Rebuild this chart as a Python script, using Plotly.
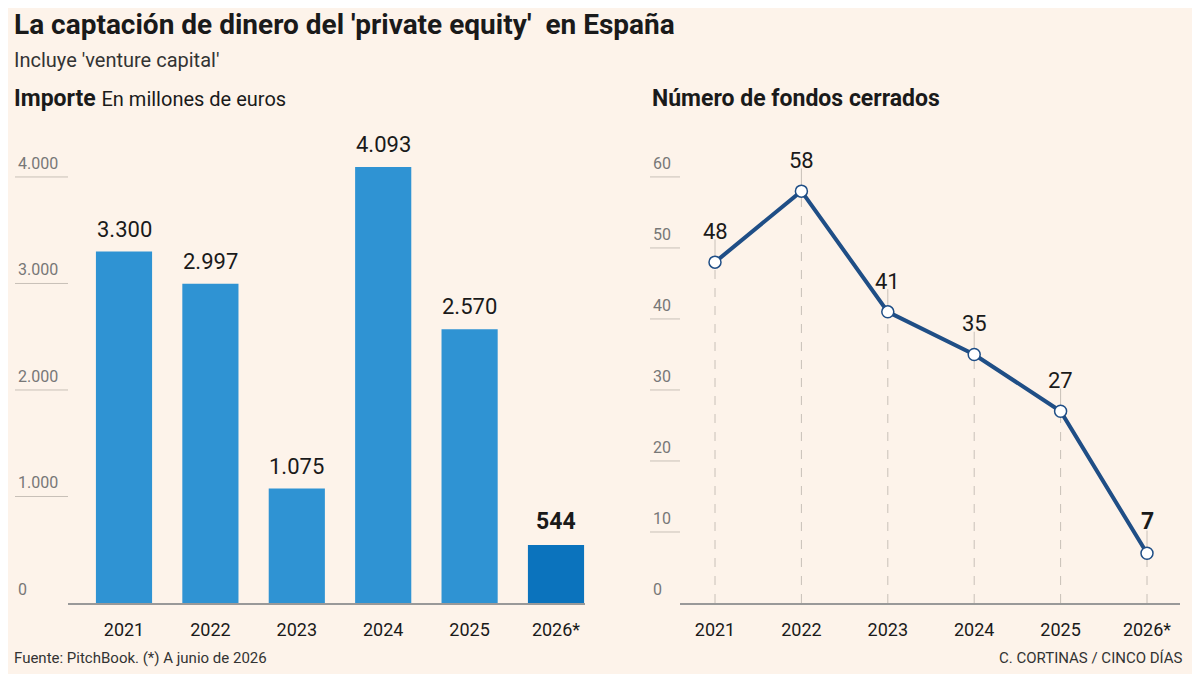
import plotly.graph_objects as go

years = ["2021", "2022", "2023", "2024", "2025", "2026*"]
importe = [3300, 2997, 1075, 4093, 2570, 544]
fondos = [48, 58, 41, 35, 27, 7]
left_ticks = [0, 1000, 2000, 3000, 4000]
right_ticks = [0, 10, 20, 30, 40, 50, 60]

BG = "#fdf3ea"
FONT = "Roboto"
TXT = "#1a1a1a"
OFF = 8  # page offset compensation
W, H = 1200, 674
xs = list(range(len(years)))

def px(x):
    return (x - OFF) / W

def py(y):
    return 1 - (y - OFF) / H

def fmt(v):
    return f"{v:,}".replace(",", ".")

fig = go.Figure()
fig.add_trace(go.Bar(x=xs, y=importe, width=0.65,
                     marker=dict(color=["#2f93d3"] * 5 + ["#0b73bd"], line_width=0),
                     xaxis="x", yaxis="y", hoverinfo="skip"))
fig.add_trace(go.Scatter(x=xs, y=fondos, mode="lines+markers",
                         line=dict(color="#1f4e86", width=4),
                         marker=dict(size=12, color="white", line=dict(color="#1f4e86", width=1.5)),
                         xaxis="x2", yaxis="y2", hoverinfo="skip"))

ann = []
shapes = []
for i, v in enumerate(importe):
    last = i == len(importe) - 1
    ann.append(dict(x=i, y=v, xref="x", yref="y", text=f"<b>{fmt(v)}</b>" if last else fmt(v),
                    showarrow=False, yanchor="bottom", yshift=8,
                    font=dict(size=23 if last else 22, color=TXT, family=FONT)))
for i, v in enumerate(fondos):
    last = i == len(fondos) - 1
    ann.append(dict(x=i, y=v, xref="x2", yref="y2", text=f"<b>{v}</b>" if last else str(v),
                    showarrow=False, yanchor="bottom", yshift=16,
                    font=dict(size=23 if last else 22, color=TXT, family=FONT)))
    shapes.append(dict(type="line", xref="x2", yref="y2", x0=i, x1=i, y0=0, y1=v,
                       line=dict(color="#c8c0b8", width=1, dash="dash"), layer="below"))
    shapes.append(dict(type="line", xref="x2", yref="y2", x0=i, x1=i, y0=v, y1=v + 3.2,
                       line=dict(color="#c8c0b8", width=1), layer="below"))
for t in left_ticks:
    ann.append(dict(x=px(16), y=t, xref="paper", yref="y", text=fmt(t), showarrow=False,
                    xanchor="left", yanchor="bottom", yshift=2,
                    font=dict(size=16, color="#777", family=FONT)))
    if t > 0:
        shapes.append(dict(type="line", xref="paper", yref="y", x0=px(15), x1=px(68), y0=t, y1=t,
                           line=dict(color="#c8c0b8", width=1)))
for t in right_ticks:
    ann.append(dict(x=px(651), y=t, xref="paper", yref="y2", text=str(t), showarrow=False,
                    xanchor="left", yanchor="bottom", yshift=2,
                    font=dict(size=16, color="#777", family=FONT)))
    if t > 0:
        shapes.append(dict(type="line", xref="paper", yref="y2", x0=px(650), x1=px(680), y0=t, y1=t,
                           line=dict(color="#c8c0b8", width=1)))

def txt(x, y, s, size, xanchor="left", color=TXT):
    ann.append(dict(x=px(x), y=py(y), xref="paper", yref="paper", text=s, showarrow=False,
                    xanchor=xanchor, yanchor="middle", font=dict(size=size, color=color, family=FONT)))

txt(12, 24, "<b>La captación de dinero del 'private equity'  en España</b>", 28)
txt(12, 60, "Incluye 'venture capital'", 20, color="#333")
txt(12, 98, "<b>Importe</b> <span style='font-size:20px'>En millones de euros</span>", 23)
txt(650, 98, "<b>Número de fondos cerrados</b>", 23)
txt(12, 658, "Fuente: PitchBook. (*) A junio de 2026", 15, color="#333")
txt(1185, 658, "C. CORTINAS / CINCO DÍAS", 15, xanchor="right", color="#333")

ydom = [py(603), py(140)]
xax = dict(tickmode="array", tickvals=xs, ticktext=years, showgrid=False, zeroline=False,
           showline=True, linecolor="#999", linewidth=1.5, ticks="", ticklabelstandoff=10,
           tickfont=dict(size=18, color=TXT, family=FONT), fixedrange=True)
yax = dict(showticklabels=False, showgrid=False, zeroline=False, fixedrange=True)
fig.update_layout(
    width=W, height=H, margin=dict(l=0, r=0, t=0, b=0),
    paper_bgcolor=BG, plot_bgcolor=BG, showlegend=False,
    xaxis=dict(xax, domain=[px(68), px(585)], range=[(68 - 124) / 86.4, (585 - 124) / 86.4], anchor="y"),
    yaxis=dict(yax, domain=ydom, range=[0, 4347], anchor="x"),
    xaxis2=dict(xax, domain=[px(680), px(1180)], range=[(680 - 715) / 86.4, (1180 - 715) / 86.4], anchor="y2"),
    yaxis2=dict(yax, domain=ydom, range=[0, 65.2], anchor="x2"),
    annotations=ann, shapes=shapes,
)
fig.write_html("out.html")
